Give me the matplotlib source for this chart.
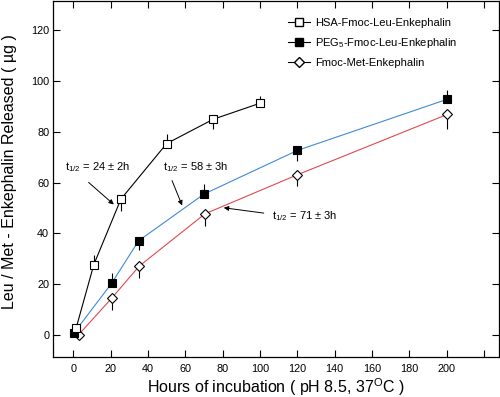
import numpy as np
import matplotlib
matplotlib.use("Agg")
import matplotlib.pyplot as plt
from matplotlib.lines import Line2D

plt.rcParams['font.family'] = ['Liberation Sans', 'DejaVu Sans']
plt.rcParams['mathtext.fontset'] = 'custom'
plt.rcParams['mathtext.rm'] = 'Liberation Sans'
plt.rcParams['mathtext.it'] = 'Liberation Sans'
plt.rcParams['mathtext.bf'] = 'Liberation Sans:bold'

# data
hsa_x = [1.5, 11, 25.5, 50, 75, 100]
hsa_y = [2.6, 27.7, 53.5, 75.4, 85, 91.3]
hsa_lo = [0, 0, 4.5, 0, 4, 0]
hsa_hi = [0, 3.7, 0, 3.7, 0, 3]

peg_x = [0.5, 20.5, 35, 70, 120, 200]
peg_y = [0.9, 20.3, 37.1, 55.5, 72.7, 92.8]
peg_lo = [0, 0, 3.8, 0, 4.2, 0]
peg_hi = [0, 3.9, 0, 3.9, 0, 3.9]

met_x = [2.8, 20.5, 35.3, 70.5, 120, 200.3]
met_y = [0, 14.4, 27.1, 47.7, 63.1, 86.9]
met_lo = [0, 4.6, 4.8, 4.6, 4.3, 5.8]
met_hi = [0, 0, 0, 0, 0, 0]

labels = ['HSA-Fmoc-Leu-Enkephalin', 'PEG$_5$-Fmoc-Leu-Enkephalin', 'Fmoc-Met-Enkephalin']
xticks = list(range(0, 221, 20))
xtick_labels = [str(t) if t <= 200 else '' for t in xticks]
yticks = list(range(0, 121, 20))


fig = plt.figure(figsize=(5, 3.97), dpi=100)
ax = fig.add_axes([53.3/500, 1 - 356.7/397, 445.7/500, 355.7/397])

ms = 5.6
lw = 0.8
# error bars (one sided)
ax.errorbar(hsa_x, hsa_y, yerr=[hsa_lo, hsa_hi], fmt='none', ecolor='black', elinewidth=lw, capsize=0, zorder=2)
ax.errorbar(peg_x, peg_y, yerr=[peg_lo, peg_hi], fmt='none', ecolor='black', elinewidth=lw, capsize=0, zorder=2)
ax.errorbar(met_x, met_y, yerr=[met_lo, met_hi], fmt='none', ecolor='black', elinewidth=lw, capsize=0, zorder=2)

ax.plot(met_x, met_y, color='#e04a4f', lw=lw, zorder=3)
ax.plot(met_x, met_y, 'D', ms=ms, mfc='white', mec='black', mew=0.8, zorder=4)
ax.plot(peg_x, peg_y, color='#3f8ad8', lw=lw, zorder=3)
ax.plot(peg_x, peg_y, 's', ms=ms, mfc='black', mec='black', mew=0.8, zorder=4)
ax.plot(hsa_x, hsa_y, color='black', lw=lw, zorder=3)
ax.plot(hsa_x, hsa_y, 's', ms=ms, mfc='white', mec='black', mew=0.8, zorder=5)

ax.set_xlim(-10.7, 228)
ax.set_ylim(-8.6, 131.6)
ax.set_xticks(xticks)
ax.set_xticklabels(xtick_labels)
ax.set_yticks(yticks)
ax.tick_params(direction='in', top=True, right=True, length=5, width=0.8, labelsize=7.8)
ax.tick_params(axis='x', pad=5)
ax.tick_params(axis='y', pad=3)
for s in ax.spines.values():
    s.set_linewidth(0.9)

ax.set_xlabel('Hours of incubation ( pH 8.5, 37$^{\\mathrm{O}}$C )', fontsize=11.5)
ax.set_ylabel('Leu / Met - Enkephalin Released ( \u00b5g )', fontsize=11.5)
ax.xaxis.set_label_coords((276 - 53.3) / 445.7, -(393.5 - 356.7) / 355.7)
ax.xaxis.label.set_va('baseline')
ax.yaxis.set_label_coords(-0.081, 0.52)

# half-life annotations
arrow = dict(arrowstyle='-|>', color='black', lw=0.7, mutation_scale=7, shrinkA=0, shrinkB=0)
ax.text(-4.3, 66.3, 't$_{1/2}$ = 24 \u00b1 2h', fontsize=8, ha='left', va='center')
ax.annotate('', xy=(21.7, 51.4), xytext=(8.2, 60.1), arrowprops=arrow)
ax.text(48.1, 66.3, 't$_{1/2}$ = 58 \u00b1 3h', fontsize=8, ha='left', va='center')
ax.annotate('', xy=(58.3, 51), xytext=(52.9, 60.8), arrowprops=arrow)
ax.text(106.5, 47, 't$_{1/2}$ = 71 \u00b1 3h', fontsize=8, ha='left', va='center')
ax.annotate('', xy=(80.6, 50.1), xytext=(102, 48), arrowprops=arrow)

handles = [
    Line2D([], [], color='black', lw=lw, marker='s', ms=ms, mfc='white', mec='black'),
    Line2D([], [], color='black', lw=lw, marker='s', ms=ms, mfc='black', mec='black'),
    Line2D([], [], color='black', lw=lw, marker='D', ms=ms, mfc='white', mec='black'),
]
ax.legend(handles, labels, loc='upper left', bbox_to_anchor=(0.527, 0.953), frameon=False,
          fontsize=8, handlelength=2.0, handletextpad=0.45, labelspacing=0.75,
          borderpad=0, borderaxespad=0)

fig.savefig('out.png', dpi=100)
